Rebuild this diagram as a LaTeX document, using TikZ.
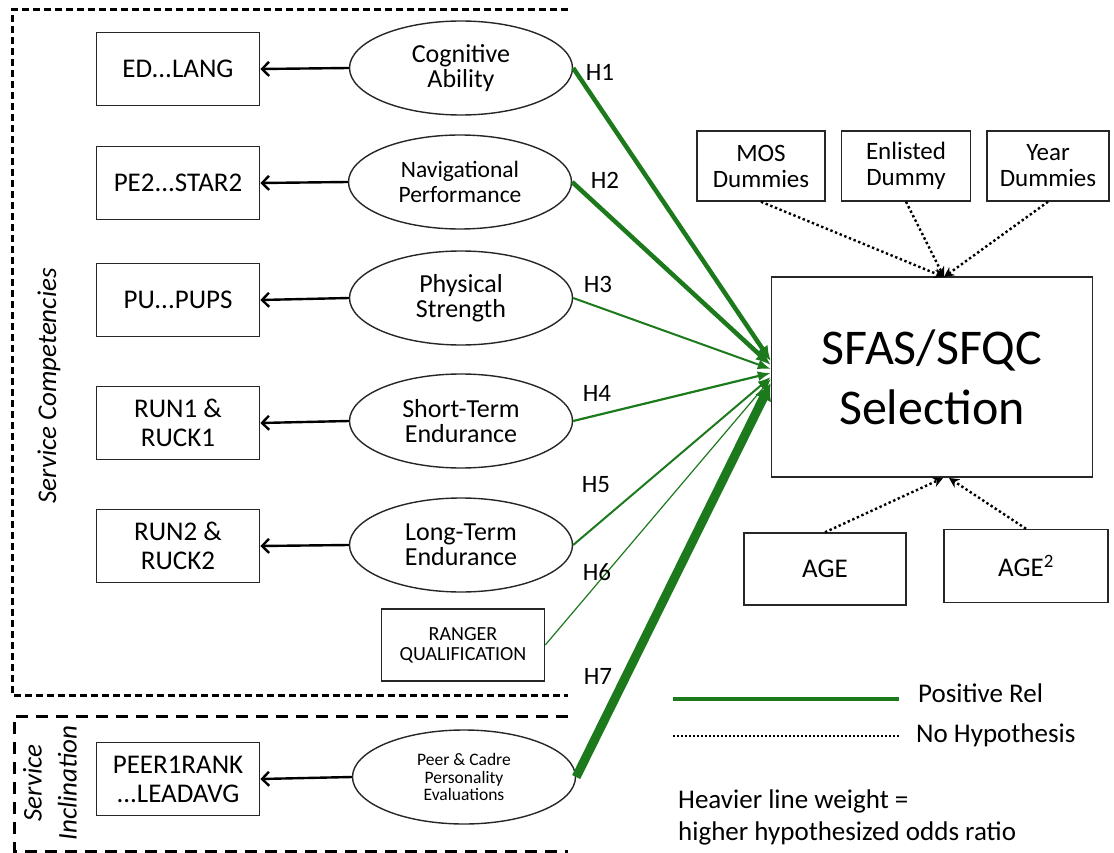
\documentclass[tikz,border=0pt]{standalone}
\usepackage{fontspec}
\setmainfont{Carlito}
\usetikzlibrary{shapes.geometric,arrows.meta,calc}
\definecolor{grn}{RGB}{28,122,28}
\begin{document}
\begin{tikzpicture}[x=1pt,y=-1pt,
  lbox/.style={draw=black!85,line width=1.7pt,minimum width=163pt,minimum height=73pt,inner sep=0pt,align=center,font=\fontsize{27}{29}\selectfont},
  lat/.style={draw=black!85,line width=1.4pt,ellipse,minimum width=223pt,minimum height=94pt,inner sep=0pt,align=center,font=\fontsize{26}{25}\selectfont},
  cbox/.style={draw=black!85,line width=1.5pt,inner sep=0pt,align=center,font=\fontsize{25}{26}\selectfont},
  hl/.style={font=\fontsize{25}{26}\selectfont,inner sep=0pt},
  mes/.style={draw=black,line width=2.4pt,-{Straight Barb[length=7pt,width=14pt]}},
  posrel/.style={draw=grn},
  nh/.style={draw=black,line width=2.4pt,dash pattern=on 2.4pt off 2.6pt,-{Stealth[length=10pt,width=10pt]}},
  grp/.style={draw=black,line width=3pt}
]
\useasboundingbox (0,0) rectangle (1114,853);
% group frames
\draw[grp,dash pattern=on 7pt off 4pt] (568,10) -- (12,10) -- (12,695) -- (568,695);
\draw[grp,dash pattern=on 12pt off 8pt] (568,716) -- (14,716) -- (14,851) -- (568,851);
\node[rotate=90,font=\itshape\fontsize{27}{28}\selectfont] (sc) at (49,386) {Service Competencies};
\node[rotate=90,align=center,font=\itshape\fontsize{27}{35}\selectfont] (si) at (50,783) {Service\\Inclination};
% indicator boxes
\node[lbox] (b1) at (178,69) {ED...LANG};
\node[lbox] (b2) at (178,183) {PE2...STAR2};
\node[lbox] (b3) at (178,300) {PU...PUPS};
\node[lbox] (b4) at (178,423) {RUN1 \&\\RUCK1};
\node[lbox] (b5) at (178,546) {RUN2 \&\\RUCK2};
\node[lbox] (b7) at (178,779) {PEER1RANK\\...LEADAVG};
% latent ellipses
\node[lat] (e1) at (461,68) {Cognitive\\Ability};
\node[lat,font=\fontsize{23.5}{25}\selectfont] (e2) at (460,182) {Navigational\\Performance};
\node[lat] (e3) at (461,298) {Physical\\Strength};
\node[lat] (e4) at (461,421) {Short-Term\\Endurance};
\node[lat] (e5) at (461,545) {Long-Term\\Endurance};
\node[lat,font=\fontsize{17.5}{17.5}\selectfont] (e7) at (464,777) {Peer \& Cadre\\Personality\\Evaluations};
\node[cbox,minimum width=163pt,minimum height=72pt,font=\fontsize{20}{20}\selectfont] (rq) at (463,645) {RANGER\\QUALIFICATION};
% measurement arrows
\foreach \i in {1,2,3,4,5,7} {\draw[mes] (e\i.west) -- (b\i.east);}
% outcome
\node[cbox,minimum width=321pt,minimum height=200pt,font=\fontsize{50}{60}\selectfont] (sf) at (932,377) {SFAS/SFQC\\Selection};
\node[cbox,minimum width=128pt,minimum height=70pt] (mos) at (761,166) {MOS\\Dummies};
\node[cbox,minimum width=129pt,minimum height=70pt] (enl) at (906,166) {Enlisted\\Dummy};
\node[cbox,minimum width=122pt,minimum height=70pt] (yr) at (1048,166) {Year\\Dummies};
\node[cbox,minimum width=162pt,minimum height=72pt,font=\fontsize{27}{28}\selectfont] (age) at (825,569) {AGE};
\node[cbox,minimum width=164pt,minimum height=73pt,font=\fontsize{27}{28}\selectfont] (age2) at (1026,566) {AGE\textsuperscript{2}};
\coordinate (top) at (944,277);
\coordinate (bot1) at (943,478);
\coordinate (bot2) at (949,478);
\draw[nh] (mos.south) -- (top);
\draw[nh] (enl.south) -- (top);
\draw[nh] (yr.south) -- (top);
\draw[nh] (age.north) -- (bot1);
\draw[nh] (age2.north) -- (bot2);
% hypothesis arrows
\draw[posrel,line width=4.5pt,-{Latex[length=15pt,width=13pt]}] (e1.east) -- ($(sf.west)+(0,-16)$);
\draw[posrel,line width=4.5pt,-{Latex[length=15pt,width=13pt]}] (e2.east) -- ($(sf.west)+(0,-12)$);
\draw[posrel,line width=2pt,-{Latex[length=13pt,width=10pt]}] (e3.east) -- ($(sf.west)+(0,-8)$);
\draw[posrel,line width=2.2pt,-{Latex[length=13pt,width=10pt]}] (e4.east) -- ($(sf.west)+(0,-4)$);
\draw[posrel,line width=2pt,-{Latex[length=13pt,width=10pt]}] (e5.east) -- ($(sf.west)+(0,0)$);
\draw[posrel,line width=1.2pt,-{Latex[length=12pt,width=9pt]}] (rq.east) -- ($(sf.west)+(0,2)$);
\draw[posrel,line width=9pt,-{Latex[length=17pt,width=18pt]}] (e7.east) -- ($(sf.west)+(0,6)$);
\node[hl] (h1) at (600,72) {H1};
\node[hl] (h2) at (605,180) {H2};
\node[hl] (h3) at (598,284) {H3};
\node[hl] (h4) at (597,393) {H4};
\node[hl] (h5) at (596,485) {H5};
\node[hl] (h6) at (597,572) {H6};
\node[hl] (h7) at (598,676) {H7};
% legend
\coordinate (l1a) at (673,699);
\coordinate (l1b) at (899,699);
\coordinate (l2a) at (673,736);
\coordinate (l2b) at (899,736);
\draw[grn,line width=3.5pt] (l1a) -- (l1b);
\draw[black,line width=2pt,dash pattern=on 2pt off 2pt] (l2a) -- (l2b);
\node[anchor=base west,inner sep=0pt,font=\fontsize{27}{28}\selectfont] (t1) at (918,702) {Positive Rel};
\node[anchor=base west,inner sep=0pt,font=\fontsize{27}{28}\selectfont] (t2) at (916,742) {No Hypothesis};
\node[anchor=base west,inner sep=0pt,font=\fontsize{27}{32}\selectfont] (t3) at (678,808) {Heavier line weight =};
\node[anchor=base west,inner sep=0pt,font=\fontsize{27}{32}\selectfont] (t4) at (678,840) {higher hypothesized odds ratio};
\end{tikzpicture}
\end{document}
